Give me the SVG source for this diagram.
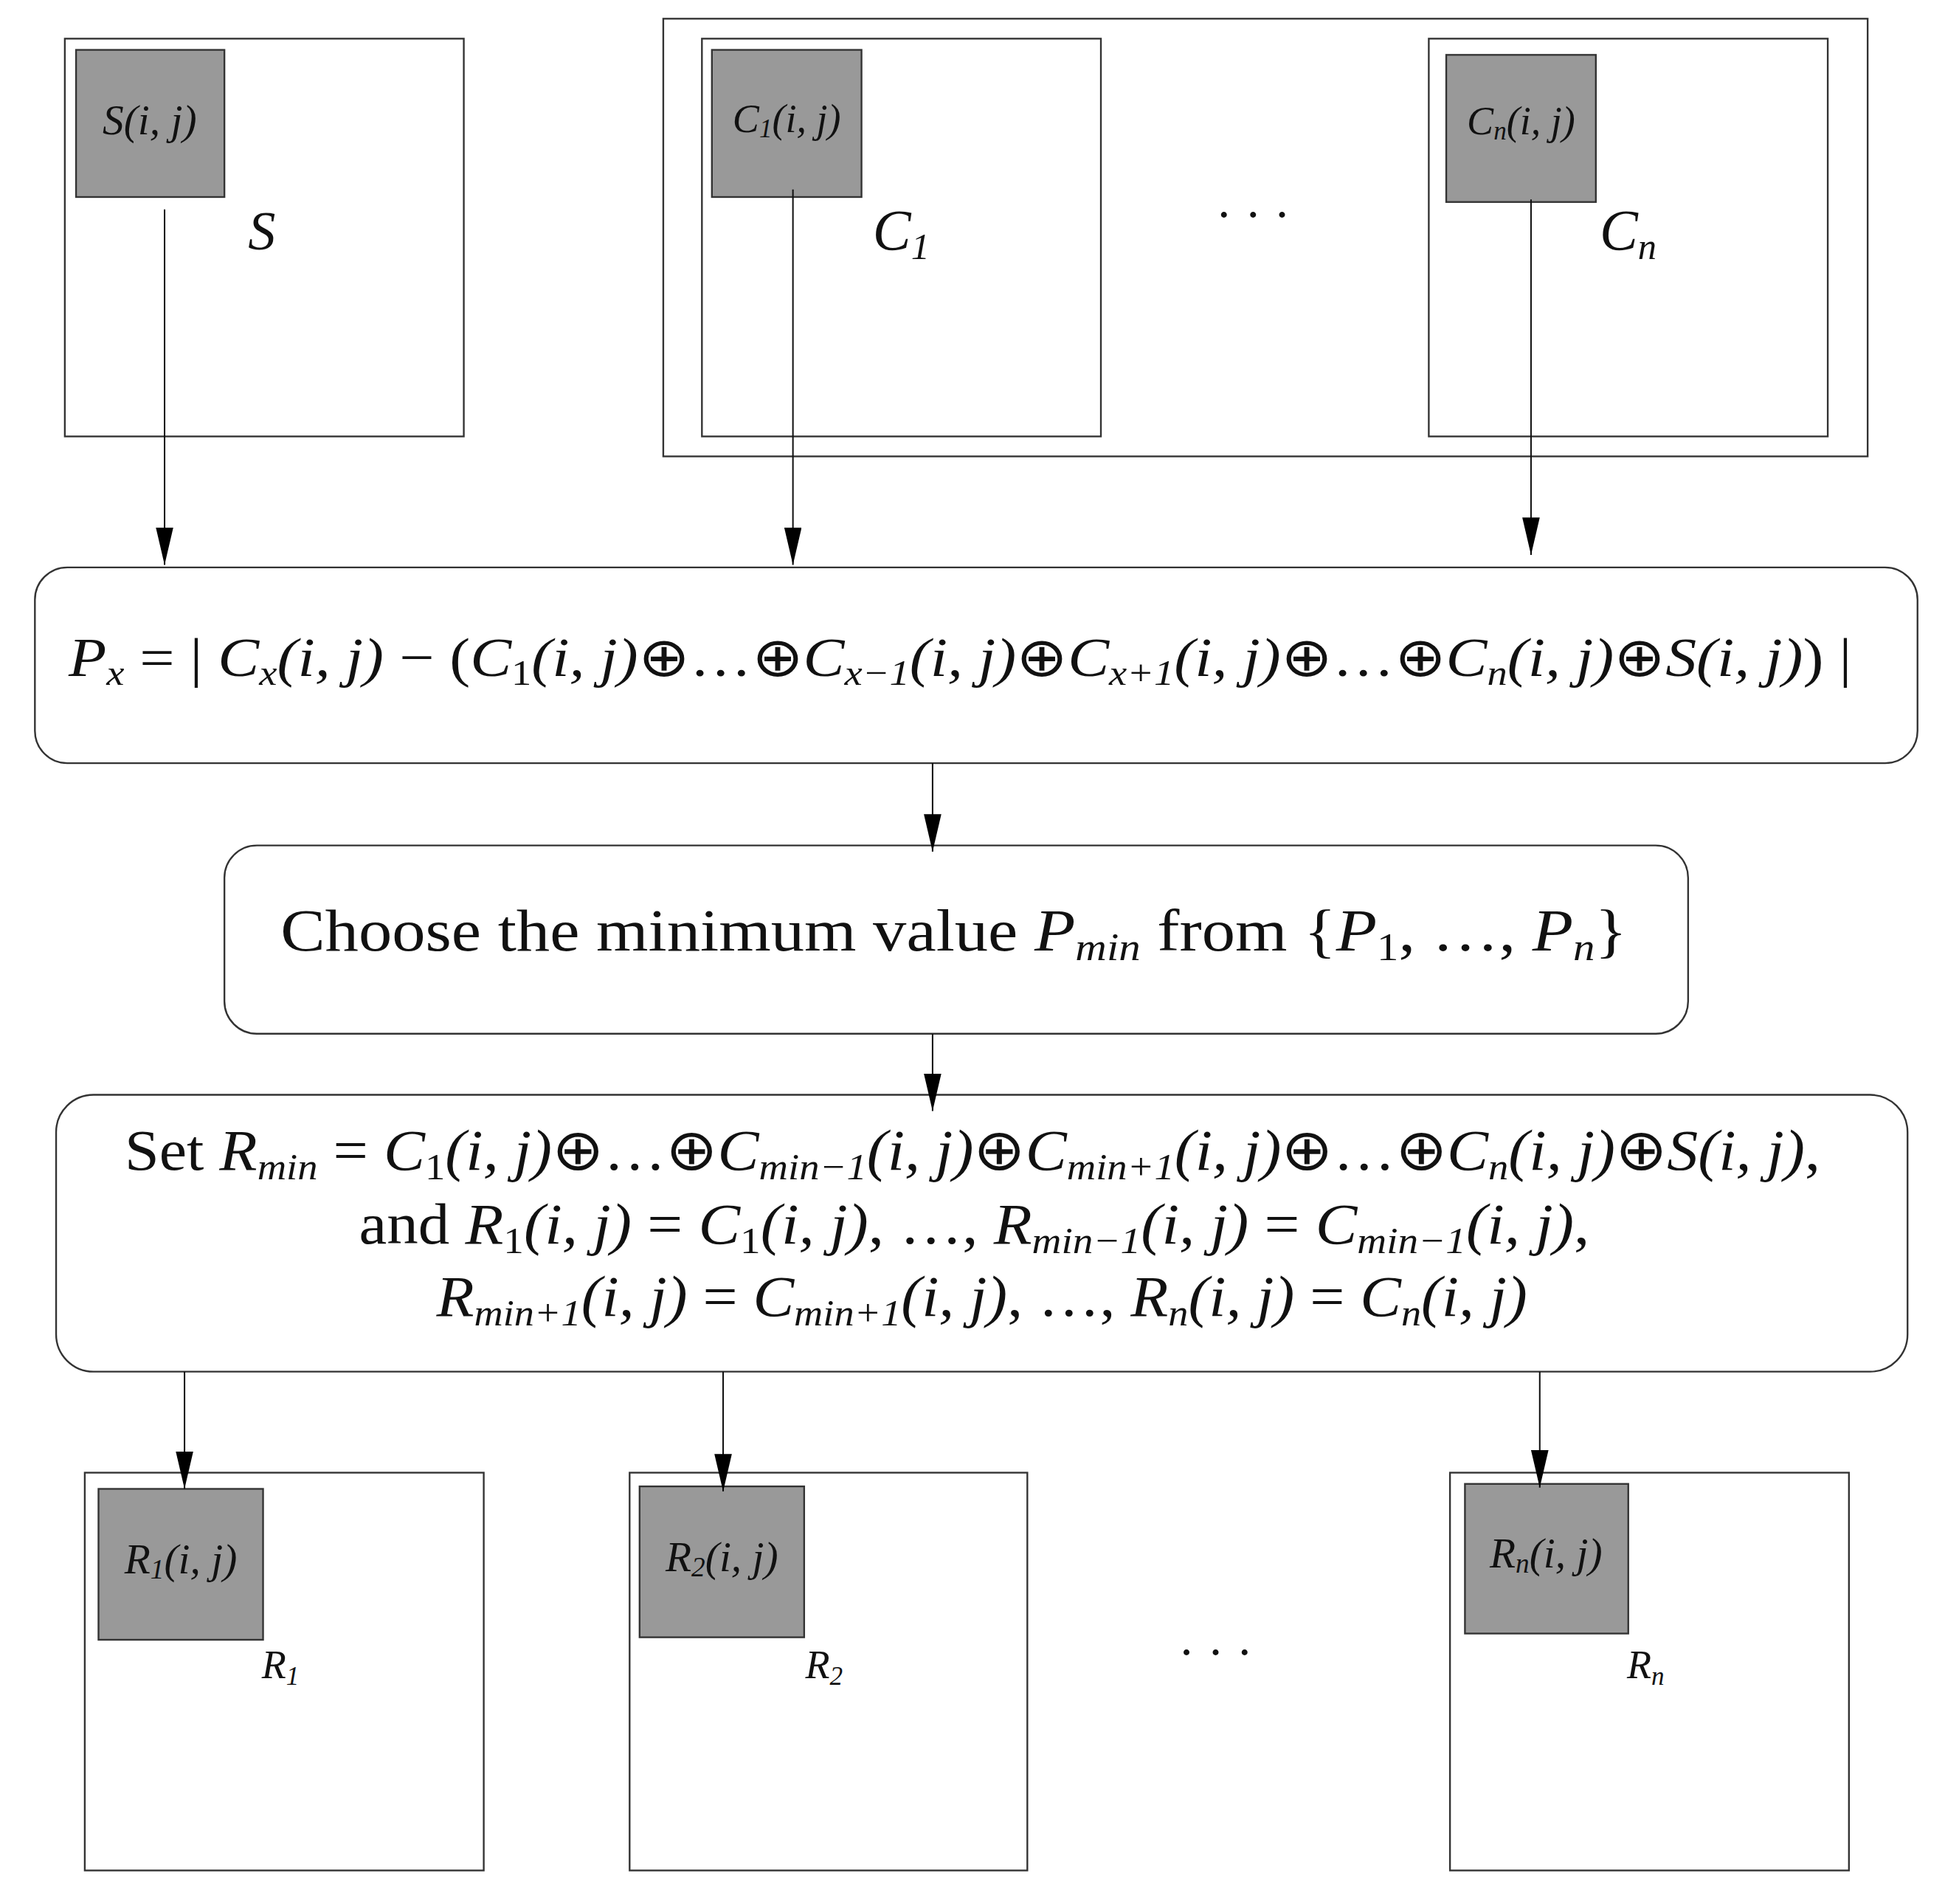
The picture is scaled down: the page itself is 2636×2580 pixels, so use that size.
<svg xmlns="http://www.w3.org/2000/svg" width="2636" height="2580" viewBox="0 0 2636 2580">
<style>
.box{fill:#fff;stroke:#333;stroke-width:1.4}
.cell{fill:#999;stroke:#333;stroke-width:1.4}
.rb{fill:#fff;stroke:#333;stroke-width:1.4}
.ln{stroke:#111;stroke-width:1.2;fill:none}
text{font-family:"Liberation Serif",serif;fill:#111}
.i{font-style:italic}
.s{font-size:65%}
</style>
<defs><marker id="ah" viewBox="0 0 30 14" refX="30" refY="7" markerWidth="30" markerHeight="14" markerUnits="userSpaceOnUse" orient="auto"><path d="M0,0L30,7L0,14z" fill="#000"/></marker></defs>
<rect width="2636" height="2580" fill="#fff"/>
<g transform="scale(1.6897)">
<g id="S">
<rect class="box" x="52" y="31" width="320" height="319"/>
<rect class="cell" x="61" y="40" width="119" height="118"/>
<text x="120" y="108" font-size="34" text-anchor="middle" class="i">S(i, j)</text>
<text x="210" y="200" font-size="44" text-anchor="middle" class="i">S</text>
</g>
<g id="Cgroup">
<rect class="box" x="532" y="15" width="966" height="351"/>
</g>
<g id="C1">
<rect class="box" x="563" y="31" width="320" height="319"/>
<rect class="cell" x="571" y="40" width="120" height="118"/>
<text x="631" y="106" font-size="32" text-anchor="middle" class="i">C<tspan class="s" baseline-shift="-20%">1</tspan>(i, j)</text>
<text x="700" y="200" font-size="46" class="i">C<tspan class="s" baseline-shift="-25%">1</tspan></text>
</g>
<text x="1005" y="185" font-size="40" text-anchor="middle">· · ·</text>
<g id="Cn">
<rect class="box" x="1146" y="31" width="320" height="319"/>
<rect class="cell" x="1160" y="44" width="120" height="118"/>
<text x="1220" y="108" font-size="32" text-anchor="middle" class="i">C<tspan class="s" baseline-shift="-20%">n</tspan>(i, j)</text>
<text x="1283" y="200" font-size="46" class="i">C<tspan class="s" baseline-shift="-25%">n</tspan></text>
</g>
<g id="Px">
<rect class="rb" x="28" y="455" width="1510" height="157" rx="26"/>
<text x="55" y="542" font-size="44" textLength="1430" lengthAdjust="spacingAndGlyphs"><tspan class="i">P</tspan><tspan class="s i" baseline-shift="-25%">x</tspan> = | <tspan class="i">C</tspan><tspan class="s i" baseline-shift="-25%">x</tspan><tspan class="i">(i, j)</tspan> − (<tspan class="i">C</tspan><tspan class="s" baseline-shift="-25%">1</tspan><tspan class="i">(i, j)</tspan>⊕…⊕<tspan class="i">C</tspan><tspan class="s i" baseline-shift="-25%">x−1</tspan><tspan class="i">(i, j)</tspan>⊕<tspan class="i">C</tspan><tspan class="s i" baseline-shift="-25%">x+1</tspan><tspan class="i">(i, j)</tspan>⊕…⊕<tspan class="i">C</tspan><tspan class="s i" baseline-shift="-25%">n</tspan><tspan class="i">(i, j)</tspan>⊕<tspan class="i">S(i, j)</tspan>) |</text>
</g>
<g id="Choose">
<rect class="rb" x="180" y="678" width="1174" height="151" rx="26"/>
<text x="225" y="762" font-size="48" textLength="1080" lengthAdjust="spacingAndGlyphs">Choose the minimum value <tspan class="i">P</tspan><tspan class="s i" baseline-shift="-25%">min</tspan> from {<tspan class="i">P</tspan><tspan class="s" baseline-shift="-25%">1</tspan>, …, <tspan class="i">P</tspan><tspan class="s i" baseline-shift="-25%">n</tspan>}</text>
</g>
<g id="Set">
<rect class="rb" x="45" y="878" width="1485" height="222" rx="30"/>
<text x="100" y="938" font-size="46" textLength="1360" lengthAdjust="spacingAndGlyphs">Set <tspan class="i">R</tspan><tspan class="s i" baseline-shift="-25%">min</tspan> = <tspan class="i">C</tspan><tspan class="s" baseline-shift="-25%">1</tspan><tspan class="i">(i, j)</tspan>⊕…⊕<tspan class="i">C</tspan><tspan class="s i" baseline-shift="-25%">min−1</tspan><tspan class="i">(i, j)</tspan>⊕<tspan class="i">C</tspan><tspan class="s i" baseline-shift="-25%">min+1</tspan><tspan class="i">(i, j)</tspan>⊕…⊕<tspan class="i">C</tspan><tspan class="s i" baseline-shift="-25%">n</tspan><tspan class="i">(i, j)</tspan>⊕<tspan class="i">S(i, j)</tspan>,</text>
<text x="288" y="997" font-size="46" textLength="987" lengthAdjust="spacingAndGlyphs">and <tspan class="i">R</tspan><tspan class="s" baseline-shift="-25%">1</tspan><tspan class="i">(i, j)</tspan> = <tspan class="i">C</tspan><tspan class="s" baseline-shift="-25%">1</tspan><tspan class="i">(i, j)</tspan>, …, <tspan class="i">R</tspan><tspan class="s i" baseline-shift="-25%">min−1</tspan><tspan class="i">(i, j)</tspan> = <tspan class="i">C</tspan><tspan class="s i" baseline-shift="-25%">min−1</tspan><tspan class="i">(i, j)</tspan>,</text>
<text x="350" y="1055" font-size="46" textLength="875" lengthAdjust="spacingAndGlyphs"><tspan class="i">R</tspan><tspan class="s i" baseline-shift="-25%">min+1</tspan><tspan class="i">(i, j)</tspan> = <tspan class="i">C</tspan><tspan class="s i" baseline-shift="-25%">min+1</tspan><tspan class="i">(i, j)</tspan>, …, <tspan class="i">R</tspan><tspan class="s i" baseline-shift="-25%">n</tspan><tspan class="i">(i, j)</tspan> = <tspan class="i">C</tspan><tspan class="s i" baseline-shift="-25%">n</tspan><tspan class="i">(i, j)</tspan></text>
</g>
<g id="R1">
<rect class="box" x="68" y="1181" width="320" height="319"/>
<rect class="cell" x="79" y="1194" width="132" height="121"/>
<text x="145" y="1262" font-size="34" text-anchor="middle" class="i">R<tspan class="s" baseline-shift="-20%">1</tspan>(i, j)</text>
<text x="210" y="1346" font-size="32" class="i">R<tspan class="s" baseline-shift="-25%">1</tspan></text>
</g>
<g id="R2">
<rect class="box" x="505" y="1181" width="319" height="319"/>
<rect class="cell" x="513" y="1192" width="132" height="121"/>
<text x="579" y="1260" font-size="34" text-anchor="middle" class="i">R<tspan class="s" baseline-shift="-20%">2</tspan>(i, j)</text>
<text x="646" y="1346" font-size="32" class="i">R<tspan class="s" baseline-shift="-25%">2</tspan></text>
</g>
<text x="975" y="1338" font-size="40" text-anchor="middle">· · ·</text>
<g id="Rn">
<rect class="box" x="1163" y="1181" width="320" height="319"/>
<rect class="cell" x="1175" y="1190" width="131" height="120"/>
<text x="1240" y="1257" font-size="34" text-anchor="middle" class="i">R<tspan class="s" baseline-shift="-20%">n</tspan>(i, j)</text>
<text x="1305" y="1346" font-size="32" class="i">R<tspan class="s" baseline-shift="-25%">n</tspan></text>
</g>
<g id="connectors" class="ln" marker-end="url(#ah)">
<line x1="132" y1="168" x2="132" y2="453"/>
<line x1="636" y1="152" x2="636" y2="453"/>
<line x1="1228" y1="160" x2="1228" y2="445"/>
<line x1="748" y1="612" x2="748" y2="683"/>
<line x1="748" y1="829" x2="748" y2="891"/>
<line x1="148" y1="1100" x2="148" y2="1194"/>
<line x1="580" y1="1100" x2="580" y2="1196"/>
<line x1="1235" y1="1100" x2="1235" y2="1193"/>
</g>
</g>
</svg>
